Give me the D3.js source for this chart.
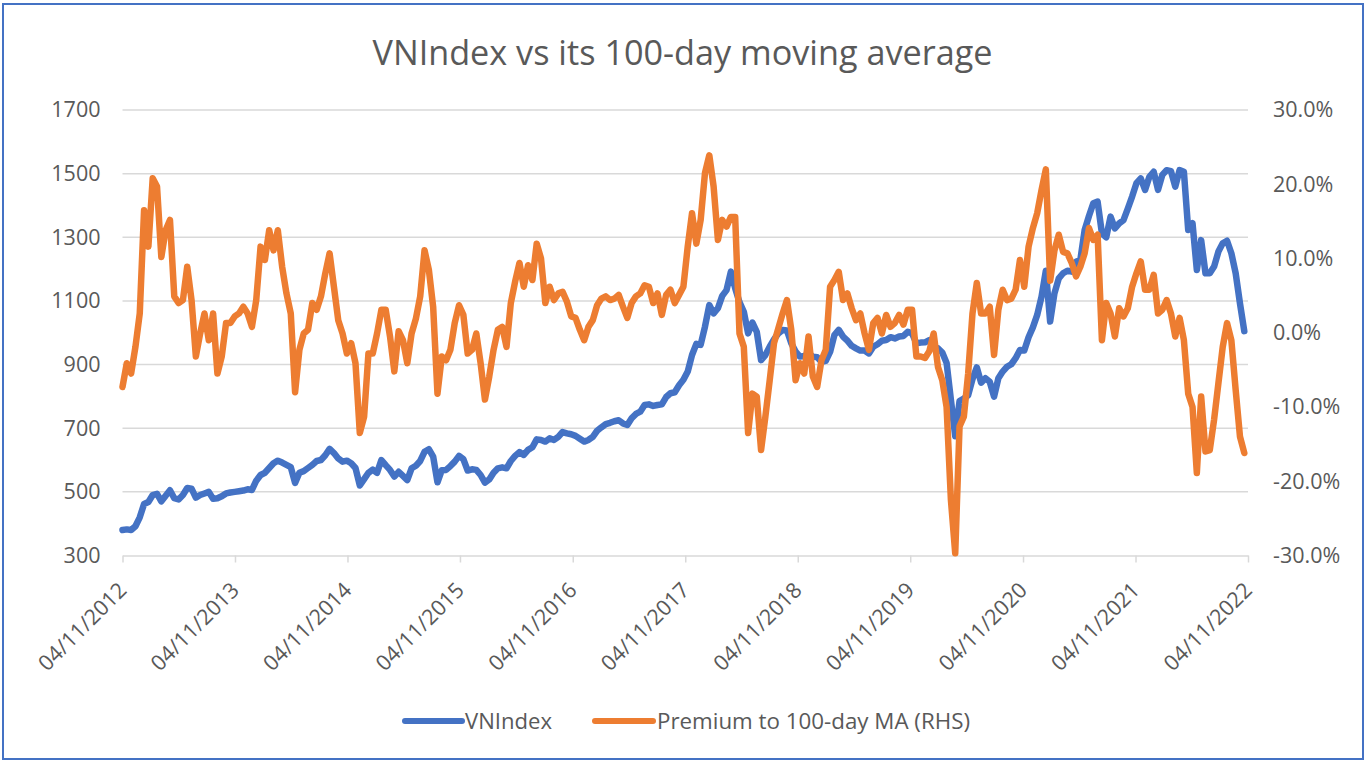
<!DOCTYPE html>
<html>
<head>
<meta charset="utf-8">
<script src="https://cdn.jsdelivr.net/npm/d3@7"></script>
<style>
  body { margin: 0; background: #fff; }
  svg { display: block; font-family: "Open Sans", sans-serif; }
</style>
</head>
<body>
<div id="chart"></div>
<script>
// Series are sampled every two weeks starting 04/11/2012
const startDate = new Date(2012, 10, 4);
const endDate = new Date(2022, 10, 4);
const stepDays = 14;

// VNIndex level (left axis)
const vnindex = [
  380,382,380,392,420,462,468,490,494,470,
  488,505,480,476,490,512,510,482,490,495,
  500,478,480,486,495,498,500,502,504,508,
  506,535,553,560,575,590,598,592,585,578,
  528,560,565,575,585,597,600,615,635,622,
  605,595,598,590,575,520,540,560,570,560,
  600,584,569,548,563,550,537,574,582,597,
  626,634,611,530,568,569,581,595,613,603,
  567,571,569,553,529,539,560,574,577,574,
  597,613,625,616,632,640,665,663,658,668,
  663,673,688,684,681,676,667,658,663,673,
  692,703,713,717,722,725,715,710,731,745,
  752,773,775,770,773,775,798,810,813,835,
  852,878,930,965,962,1019,1087,1061,1077,1116,
  1134,1192,1140,1096,1066,998,1032,1003,914,930,
  956,979,998,1009,1007,967,941,925,927,935,
  925,923,909,912,940,993,1009,988,975,959,
  951,944,944,935,956,964,975,977,986,982,
  988,990,1003,998,967,969,970,977,956,951,
  938,905,789,675,785,793,804,854,891,843,
  857,846,799,857,878,893,901,920,946,944,
  986,1017,1056,1113,1195,1035,1124,1171,1187,1195,
  1192,1223,1229,1323,1367,1407,1412,1312,1300,1365,
  1328,1344,1354,1390,1428,1470,1485,1449,1490,1506,
  1449,1496,1511,1508,1459,1511,1506,1323,1344,1197,
  1291,1187,1187,1208,1255,1281,1289,1250,1187,1092,
  1005
];

// Premium to 100-day MA, in percent (right axis)
const premium = [
  -7.3,-4.1,-5.5,-1.9,2.6,16.5,11.6,20.8,19.7,10.2,
  13.8,15.2,4.9,4.0,4.4,8.9,4.4,-3.2,-0.1,2.6,
  -1.0,2.6,-5.5,-3.2,1.3,1.3,2.2,2.6,3.5,2.6,
  0.8,4.4,11.6,9.8,13.8,11.1,13.8,8.9,5.3,2.6,
  -8.0,-2.3,-0.1,0.4,4.0,3.1,4.9,8.0,10.7,6.2,
  1.7,-0.1,-2.8,-1.4,-4.1,-13.5,-11.3,-2.8,-2.8,-0.1,
  3.1,3.1,-0.5,-5.2,0.2,-1.0,-4.1,-0.1,1.9,4.9,
  11.1,8.5,3.5,-8.2,-3.2,-3.7,-2.3,1.3,3.7,2.4,
  -2.8,-2.3,-0.1,-4.1,-9.0,-5.9,-2.3,0.4,0.8,-1.9,
  4.0,6.9,9.4,6.2,9.1,7.1,12.0,10.0,4.0,6.2,
  4.4,5.3,5.5,4.2,2.2,2.0,0.4,-1.0,0.8,1.7,
  3.7,4.6,4.9,4.4,4.6,5.1,3.5,2.0,4.0,4.9,
  5.3,6.4,6.2,4.0,5.3,2.4,5.1,5.8,4.0,5.1,
  6.2,11.6,16.1,12.0,15.2,21.5,23.9,19.7,12.5,15.2,
  14.3,15.6,15.6,-0.1,-1.9,-13.5,-8.2,-8.6,-15.8,-11.3,
  -6.4,-1.4,0.6,2.6,4.4,0.4,-6.4,-4.1,-5.5,-0.5,
  -5.9,-7.3,-3.7,-2.3,6.2,7.1,8.2,4.4,5.3,3.3,
  1.7,2.6,-0.1,-2.3,1.3,2.0,-0.1,2.4,0.8,1.3,
  2.4,1.1,3.1,3.1,-3.2,-3.2,-3.4,-2.5,-0.1,-4.6,
  -6.4,-10.0,-22.5,-29.7,-12.6,-11.3,-5.5,2.6,6.7,2.6,
  2.6,3.5,-3.0,3.1,5.8,4.4,4.6,5.8,9.8,6.2,
  11.6,14.1,16.1,19.2,22.0,7.0,11.1,13.2,10.9,10.7,
  9.4,7.6,8.9,10.7,14.1,12.5,13.2,-1.0,4.0,2.6,
  -0.5,3.3,2.2,3.3,6.2,8.0,9.6,5.8,5.8,7.8,
  2.6,3.1,4.4,2.6,-0.5,2.0,-1.0,-8.2,-10.0,-18.9,
  -8.6,-16.0,-15.8,-11.7,-6.8,-1.9,1.3,-1.0,-7.7,-14.0,
  -16.2
];

const leftTicks = [300, 500, 700, 900, 1100, 1300, 1500, 1700];
const rightTicks = [-30, -20, -10, 0, 10, 20, 30];
const tickYears = [2012, 2013, 2014, 2015, 2016, 2017, 2018, 2019, 2020, 2021, 2022];

const dates = vnindex.map((d, i) => d3.timeDay.offset(startDate, i * stepDays));

const width = 1367;
const height = 762;
const plot = { left: 122.5, right: 1248, top: 110, bottom: 555.5 };
const textColor = "#595959";
const gridColor = "#d9d9d9";
const blue = "#4472C4";
const orange = "#ED7D31";

const svg = d3.select("#chart")
  .append("svg")
  .attr("width", width)
  .attr("height", height);

// Chart border
svg.append("rect")
  .attr("x", 3)
  .attr("y", 4)
  .attr("width", 1360)
  .attr("height", 755)
  .attr("fill", "#fff")
  .attr("stroke", blue)
  .attr("stroke-width", 2);

// Title
svg.append("text")
  .attr("x", 682.5)
  .attr("y", 65)
  .attr("text-anchor", "middle")
  .attr("textLength", 620)
  .attr("lengthAdjust", "spacingAndGlyphs")
  .style("font-size", "34px")
  .style("fill", textColor)
  .text("VNIndex vs its 100-day moving average");

// Scales
const xScale = d3.scaleTime()
  .domain([startDate, endDate])
  .range([plot.left, plot.right]);

const yLeft = d3.scaleLinear()
  .domain([300, 1700])
  .range([plot.bottom, plot.top]);

const yRight = d3.scaleLinear()
  .domain([-30, 30])
  .range([plot.bottom, plot.top]);

// Gridlines
svg.append("g")
  .selectAll("line")
  .data(leftTicks.slice(1))
  .join("line")
  .attr("x1", plot.left)
  .attr("x2", plot.right)
  .attr("y1", d => yLeft(d))
  .attr("y2", d => yLeft(d))
  .attr("stroke", gridColor)
  .attr("stroke-width", 1.5);

// Left axis labels
const leftAxis = d3.axisLeft(yLeft)
  .tickValues(leftTicks)
  .tickSize(0)
  .tickPadding(22)
  .tickFormat(d3.format("d"));
const gLeft = svg.append("g")
  .attr("transform", `translate(${plot.left},0)`)
  .call(leftAxis);
gLeft.select(".domain").remove();
gLeft.selectAll("text")
  .style("font-size", "21.5px")
  .style("font-family", "Open Sans")
  .style("fill", textColor);

// Right axis labels
const rightAxis = d3.axisRight(yRight)
  .tickValues(rightTicks)
  .tickSize(0)
  .tickPadding(25)
  .tickFormat(d => d.toFixed(1) + "%");
const gRight = svg.append("g")
  .attr("transform", `translate(${plot.right},0)`)
  .call(rightAxis);
gRight.select(".domain").remove();
gRight.selectAll("text")
  .style("font-size", "21.5px")
  .style("font-family", "Open Sans")
  .style("fill", textColor);

// X axis
const tickDates = tickYears.map(y => new Date(y, 10, 4));
const bottomAxis = d3.axisBottom(xScale)
  .tickValues(tickDates)
  .tickSize(7)
  .tickSizeOuter(0)
  .tickFormat(d3.timeFormat("%d/%m/%Y"));
const gBottom = svg.append("g")
  .attr("transform", `translate(0,${plot.bottom})`)
  .call(bottomAxis);
gBottom.select(".domain").attr("stroke", gridColor).attr("stroke-width", 1.5);
gBottom.selectAll(".tick line").attr("stroke", gridColor).attr("stroke-width", 1.5);
gBottom.selectAll("text")
  .attr("x", 0)
  .attr("y", 0)
  .attr("dy", 0)
  .attr("transform", "translate(5,36) rotate(-45)")
  .style("text-anchor", "end")
  .style("font-size", "21.5px")
  .style("font-family", "Open Sans")
  .style("fill", textColor);

// Lines
const indexLine = d3.line()
  .x((d, i) => xScale(dates[i]))
  .y(d => yLeft(d));

const premiumLine = d3.line()
  .x((d, i) => xScale(dates[i]))
  .y(d => yRight(d));

svg.append("path")
  .datum(vnindex)
  .attr("fill", "none")
  .attr("stroke", blue)
  .attr("stroke-width", 6.5)
  .attr("stroke-linejoin", "round")
  .attr("stroke-linecap", "round")
  .attr("d", indexLine);

svg.append("path")
  .datum(premium)
  .attr("fill", "none")
  .attr("stroke", orange)
  .attr("stroke-width", 6.5)
  .attr("stroke-linejoin", "round")
  .attr("stroke-linecap", "round")
  .attr("d", premiumLine);

// Legend
const legendItems = [
  { label: "VNIndex", color: blue, x1: 405, x2: 462, tx: 465, len: 87 },
  { label: "Premium to 100-day MA (RHS)", color: orange, x1: 595, x2: 653, tx: 657, len: 313 }
];
const legend = svg.append("g");
legendItems.forEach(item => {
  legend.append("line")
    .attr("x1", item.x1)
    .attr("x2", item.x2)
    .attr("y1", 721)
    .attr("y2", 721)
    .attr("stroke", item.color)
    .attr("stroke-width", 6)
    .attr("stroke-linecap", "round");
  legend.append("text")
    .attr("x", item.tx)
    .attr("y", 729)
    .attr("textLength", item.len)
    .attr("lengthAdjust", "spacingAndGlyphs")
    .style("font-size", "21.5px")
    .style("fill", textColor)
    .text(item.label);
});
</script>
</body>
</html>
